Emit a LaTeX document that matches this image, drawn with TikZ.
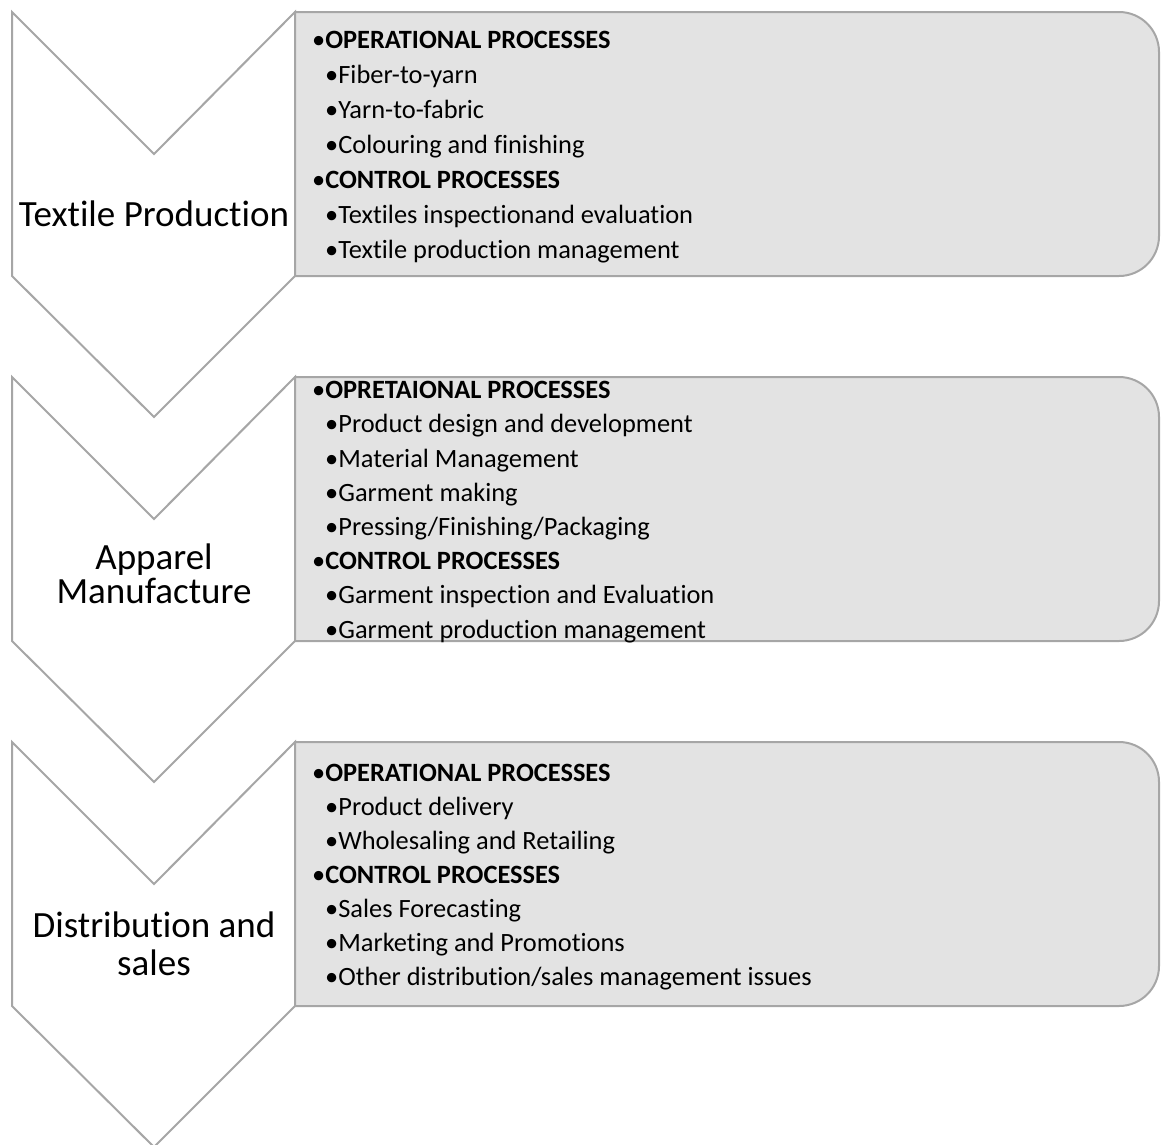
\documentclass[tikz,border=0pt]{standalone}
\usepackage{fontspec}
\setmainfont{Carlito}[Ligatures={NoCommon}]
\begin{document}
\begin{tikzpicture}[x=1pt,y=-1pt,
  chev/.style={draw=black!35, fill=white, line width=2pt, line join=miter},
  listbox/.style={draw=black!35, fill=black!11, line width=2pt},
  lab/.style={font=\fontsize{37}{40}\selectfont, anchor=base, inner sep=0pt},
  items/.style={font=\fontsize{26.4}{#1}\selectfont, align=left, anchor=west, inner sep=0pt}]
\useasboundingbox (0,0) rectangle (1161,1144);
\clip (0,0) rectangle (1161,1144);
% chevrons
\foreach \t in {12,377,742}{
  \draw[chev] (12,\t) -- (154,\t+142) -- (295,\t) -- (295,\t+264) -- (154,\t+405) -- (12,\t+264) -- cycle;
  \draw[listbox] (295,\t+264) -- (295,\t) -- (1119,\t) arc[start angle=-90,end angle=0,radius=40]
     -- (1159,\t+224) arc[start angle=0,end angle=90,radius=40] -- cycle;
}
\node[lab] (l1) at (154,226) {Textile Production};
\node[lab] (l2a) at (154,569) {Apparel};
\node[lab] (l2b) at (154,603) {Manufacture};
\node[lab] (l3a) at (154,937) {Distribution and};
\node[lab] (l3b) at (154,975) {sales};
\def\lone#1{•\textbf{#1}}
\def\ltwo#1{\hspace{13pt}•#1}
\node[items=35.1] (b1) at (312,147) {\lone{OPERATIONAL PROCESSES}\\
  \ltwo{Fiber-to-yarn}\\ \ltwo{Yarn-to-fabric}\\ \ltwo{Colouring and finishing}\\
  \lone{CONTROL PROCESSES}\\ \ltwo{Textiles inspectionand evaluation}\\ \ltwo{Textile production management}};
\node[items=34.2] (b2) at (312,512) {\lone{OPRETAIONAL PROCESSES}\\
  \ltwo{Product design and development}\\ \ltwo{Material Management}\\ \ltwo{Garment making}\\
  \ltwo{Pressing/Finishing/Packaging}\\
  \lone{CONTROL PROCESSES}\\ \ltwo{Garment inspection and Evaluation}\\ \ltwo{Garment production management}};
\node[items=34] (b3) at (312,877) {\lone{OPERATIONAL PROCESSES}\\
  \ltwo{Product delivery}\\ \ltwo{Wholesaling and Retailing}\\
  \lone{CONTROL PROCESSES}\\ \ltwo{Sales Forecasting}\\ \ltwo{Marketing and Promotions}\\
  \ltwo{Other distribution/sales management issues}};
\end{tikzpicture}
\end{document}
